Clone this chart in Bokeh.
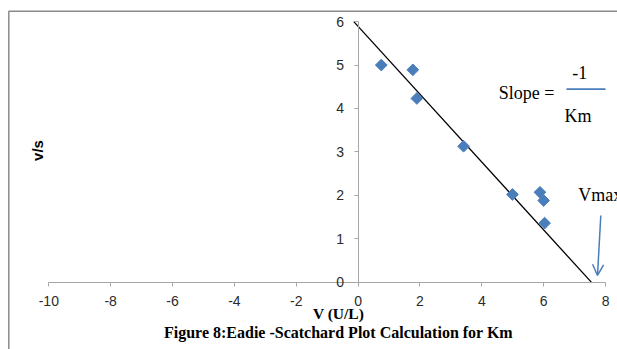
import numpy as np
from bokeh.plotting import figure
from bokeh.models import (LinearAxis, FixedTicker, Range1d, Label, Arrow, OpenHead)
from bokeh.embed import file_html
from bokeh.resources import INLINE

# ---- data ----
v_vals = [0.75, 1.77, 1.90, 3.41, 4.99, 5.88, 6.00, 6.03]     # V (U/L)
vs_vals = [5.00, 4.89, 4.23, 3.13, 2.02, 2.07, 1.88, 1.36]    # v/s
trend_x = [-0.14, 7.54]
trend_y = [6.00, 0.00]
x_ticks = [-10, -8, -6, -4, -2, 0, 2, 4, 6, 8]
y_ticks = [0, 1, 2, 3, 4, 5, 6]
x_tick_labels = ["-10", "-8", "-6", "-4", "-2", "0", "2", "4", "6", "8"]
y_tick_labels = ["0", "1", "2", "3", "4", "5", "6"]

x_label = "V (U/L)"
y_label = "v/s"
caption = "Figure 8:Eadie -Scatchard Plot Calculation for Km"

# ---- figure geometry ----
W, H = 617, 349
X_START, X_END = -11.562, 8.387
Y_START, Y_END = -1.550, 6.486

p = figure(width=W, height=H, output_backend="svg", toolbar_location=None,
           x_range=Range1d(X_START, X_END), y_range=Range1d(Y_START, Y_END),
           x_axis_location=None, y_axis_location=None,
           min_border=0, min_border_left=0, min_border_right=0,
           min_border_top=0, min_border_bottom=0)
p.outline_line_color = None
p.xgrid.visible = False
p.ygrid.visible = False
p.background_fill_color = "white"
p.border_fill_color = "white"

AX_COL = "#a6a6a6"
TXT_COL = "#2b2b2b"

xaxis = LinearAxis(fixed_location=0, bounds=(-10, 8), ticker=FixedTicker(ticks=x_ticks),
                   major_label_overrides=dict(zip(x_ticks, x_tick_labels)))
yaxis = LinearAxis(fixed_location=0, bounds=(0, 6), ticker=FixedTicker(ticks=y_ticks),
                   major_label_overrides=dict(zip(y_ticks, y_tick_labels)))
for ax in (xaxis, yaxis):
    ax.axis_line_color = AX_COL
    ax.major_tick_line_color = AX_COL
    ax.major_tick_out = 4
    ax.major_tick_in = 0
    ax.minor_tick_out = 0
    ax.minor_tick_in = 0
    ax.major_label_text_font = "Liberation Sans"
    ax.major_label_text_font_size = "14px"
    ax.major_label_text_color = TXT_COL
xaxis.major_label_standoff = 10
yaxis.major_label_standoff = 10
p.add_layout(xaxis, "below")
p.add_layout(yaxis, "left")

# frame border (top and left edges of the chart box)
p.line(x=[-11.293, -11.293, X_END], y=[Y_START, 6.240, 6.240],
       line_color="#8a8a8a", line_width=1.5)

# trend line
p.line(x=trend_x, y=trend_y, line_color="black", line_width=1.3)

# data points (diamonds)
p.scatter(x=v_vals, y=vs_vals, marker="square", angle=np.pi / 4, size=8.3,
          fill_color="#4A7EBB", line_color="#4A7EBB")

# axis titles
p.add_layout(Label(x=-0.634, y=-0.72, text=x_label, text_font="Liberation Serif",
                   text_font_style="bold", text_font_size="15.5px", text_color="black",
                   text_align="center", text_baseline="middle"))
p.add_layout(Label(x=-10.375, y=3.033, text=y_label, text_font="Liberation Sans",
                   text_font_style="bold", text_font_size="15px", text_color="black",
                   text_align="center", text_baseline="middle", angle=np.pi / 2))
p.add_layout(Label(x=-0.634, y=-1.158, text=caption, text_font="Liberation Serif",
                   text_font_style="bold", text_font_size="16px", text_color="black",
                   text_align="center", text_baseline="middle"))

# slope annotation
SERIF = "Liberation Serif"
p.add_layout(Label(x=4.55, y=4.352, text="Slope =", text_font=SERIF,
                   text_font_size="18px", text_color="black",
                   text_align="left", text_baseline="middle"))
p.add_layout(Label(x=7.168, y=4.835, text="-1", text_font=SERIF,
                   text_font_size="18px", text_color="black",
                   text_align="center", text_baseline="middle"))
p.add_layout(Label(x=7.11, y=3.838, text="Km", text_font=SERIF,
                   text_font_size="18px", text_color="black",
                   text_align="center", text_baseline="middle"))
p.line(x=[6.738, 7.999], y=[4.444, 4.444], line_color="#4A7EBB", line_width=1.8)

# Vmax annotation (cut at the right edge, as in the reference)
p.add_layout(Label(x=7.116, y=1.996, text="Vmax", text_font=SERIF,
                   text_font_size="18px", text_color="black",
                   text_align="left", text_baseline="middle"))
p.add_layout(Arrow(x_start=7.847, y_start=1.536, x_end=7.74, y_end=0.154,
                   line_color="#4A7EBB", line_width=1.5,
                   end=OpenHead(size=11, line_color="#4A7EBB", line_width=1.5)))

open("out.html", "w").write(file_html(p, INLINE))
